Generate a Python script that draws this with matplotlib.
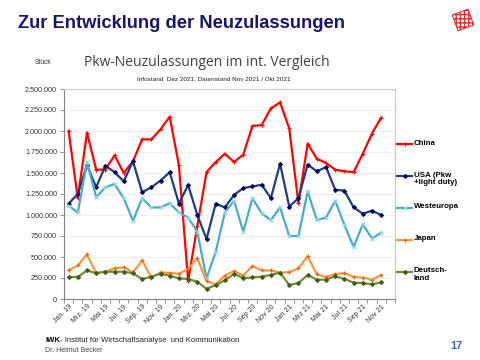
import numpy as np
import matplotlib.pyplot as plt
from matplotlib.lines import Line2D
from matplotlib.patches import Polygon
from matplotlib.ticker import FuncFormatter

# monthly new registrations, thousands of cars, Jan 2019 .. Nov 2021
china = [2000, 1200, 1980, 1540, 1540, 1710, 1500, 1640, 1900, 1900, 2020, 2170,
         1590, 215, 870, 1510, 1630, 1730, 1630, 1720, 2060, 2070, 2270, 2340,
         2030, 1140, 1850, 1670, 1620, 1540, 1520, 1510, 1730, 1970, 2160]
usa = [1135, 1250, 1595, 1330, 1587, 1510, 1400, 1640, 1270, 1330, 1410, 1510,
       1135, 1357, 1000, 714, 1135, 1090, 1240, 1320, 1340, 1360, 1200, 1610,
       1100, 1200, 1600, 1520, 1570, 1300, 1290, 1090, 1016, 1050, 1000]
westeuropa = [1110, 1030, 1630, 1210, 1330, 1370, 1200, 930, 1200, 1090, 1090, 1140,
              1030, 970, 800, 246, 560, 1030, 1170, 800, 1200, 1020, 940, 1090,
              750, 750, 1280, 940, 970, 1170, 880, 620, 890, 720, 790]
japan = [341, 400, 530, 310, 325, 365, 377, 317, 460, 254, 317, 310,
         300, 357, 484, 214, 175, 278, 333, 278, 393, 340, 340, 313,
         320, 365, 508, 294, 262, 298, 306, 266, 254, 230, 286]
deutschland = [262, 262, 341, 306, 325, 325, 325, 306, 238, 266, 300, 278,
               246, 238, 206, 120, 167, 222, 300, 246, 258, 266, 286, 313,
               167, 190, 286, 230, 230, 270, 238, 194, 190, 175, 198]

tick_labels = ['Jan. 19', 'Mrz. 19', 'Mai 19', 'Jul. 19', 'Sep. 19', 'Nov. 19',
               'Jan. 20', 'Mrz. 20', 'Mai 20', 'Jul. 20', 'Sep 20', 'Nov 20',
               'Jan 21', 'Mrz 21', 'Mai 21', 'Jul 21', 'Sep 21', 'Nov 21']

series = [
    ('China', china, '#ff0000', '#ff0000', '+'),
    ('USA (Pkw\n+light duty)', usa, '#1f3d7a', '#000066', 'D'),
    ('Westeuropa', westeuropa, '#4bacc6', '#9fd8e8', 'x'),
    ('Japan', japan, '#f79646', '#e36c0a', '+'),
    ('Deutsch-\nland', deutschland, '#6f8f35', '#3f5a1a', 'D'),
]

W, H = 480, 360
fig = plt.figure(figsize=(4.8, 3.6), dpi=100)
fig.patch.set_facecolor('white')

def fx(px):
    return px / W

def fy(py):
    return 1 - py / H

ax = fig.add_axes([fx(64), fy(299), fx(395) - fx(64), fy(89) - fy(299)])

x = np.arange(len(china))
for name, vals, col, mcol, mk in series:
    ms = 2.0 if mk == 'D' else 3.2
    ax.plot(x, np.array(vals) * 1000, color=col, lw=1.6, marker=mk, ms=ms,
            mfc=mcol, mec=mcol, mew=0.8, zorder=3)

ax.set_xlim(-0.5, 35.5)
ax.set_ylim(0, 2500000)
ax.set_yticks(np.arange(0, 2500001, 250000))
ax.yaxis.set_major_formatter(FuncFormatter(lambda v, p: f'{int(v):,}'.replace(',', '.')))
ax.grid(axis='y', color='#ececec', lw=0.6)
ax.set_axisbelow(True)

ax.set_xticks(np.arange(0, 35, 2))
ax.set_xticklabels(tick_labels, rotation=45, ha='right', va='top',
                   rotation_mode='anchor', fontsize=5, color='#333333',
                   family='Liberation Sans')
ax.set_xticks(np.arange(-0.5, 36, 1), minor=True)
ax.tick_params(axis='x', which='major', length=0, pad=3)
ax.tick_params(axis='x', which='minor', length=3, color='#808080', width=0.6)
ax.tick_params(axis='y', length=3, color='#808080', width=0.6, pad=2,
               labelsize=5.2, labelcolor='#333333')
for lab in ax.get_yticklabels():
    lab.set_family('Liberation Sans')

for s in ['left', 'bottom']:
    ax.spines[s].set_color('#808080')
    ax.spines[s].set_linewidth(0.8)
for s in ['top', 'right']:
    ax.spines[s].set_color('#c8c8c8')
    ax.spines[s].set_linewidth(0.8)

# legend on the right
for i, (name, vals, col, mcol, mk) in enumerate(series):
    yy = fy(144 + 32 * i)
    ms = 2.0 if mk == 'D' else 3.2
    fig.add_artist(Line2D([fx(397), fx(404.5), fx(412)], [yy, yy, yy], color=col,
                          lw=1.6, marker=mk, ms=ms, mfc=mcol, mec=mcol, mew=0.8,
                          markevery=[1], transform=fig.transFigure))
    fig.text(fx(414), yy + 4.5 / H, name, fontsize=5.7, fontweight='bold',
             va='top', ha='left', family='Liberation Sans', linespacing=1.15)

# headings
fig.text(fx(18), fy(24), 'Zur Entwicklung der Neuzulassungen', fontsize=13.2,
         fontweight='bold', color='#15156e', family='Liberation Sans', va='center')
fig.text(fx(207), fy(63), 'Pkw-Neuzulassungen im int. Vergleich', fontsize=10,
         color='#404040', family='Open Sans', ha='center', va='center')
fig.text(fx(214), fy(79), 'Infostand  Dez 2021, Datenstand Nov 2021 / Okt 2021',
         fontsize=4.6, color='#222222', family='Liberation Sans', ha='center', va='center')
fig.text(fx(43), fy(63), 'Stück', fontsize=4.8, color='#333333',
         family='Liberation Sans', ha='center', va='center')

# footer
fig.text(fx(45), fy(340), 'IWK', fontsize=5.6, fontweight='bold',
         family='Liberation Sans', va='center')
fig.text(fx(59.5), fy(340), '- Institut für Wirtschaftsanalyse  und Kommunikation',
         fontsize=5.6, family='Liberation Sans', va='center', color='#222222')
fig.text(fx(45), fy(350), 'Dr. Helmut Becker', fontsize=5, family='Liberation Sans',
         va='center', color='#444444')
fig.text(fx(456), fy(346), '17', fontsize=8, fontweight='bold', color='#2e6fb8',
         family='Liberation Sans', ha='center', va='center')

# small red logo top right
lax = fig.add_axes([fx(451), fy(32), fx(24), fy(8) - fy(32)])
lax.set_xlim(-1, 1)
lax.set_ylim(-1, 1)
lax.axis('off')
ang = np.deg2rad(20)
sq = np.array([[-0.7, -0.7], [0.7, -0.7], [0.7, 0.7], [-0.7, 0.7]])
rot = np.array([[np.cos(ang), -np.sin(ang)], [np.sin(ang), np.cos(ang)]])
lax.add_patch(Polygon(sq @ rot.T, closed=True, fc='white', ec='#e03030',
                      hatch='++++', lw=0.8))

fig.savefig('out.png', dpi=100)
